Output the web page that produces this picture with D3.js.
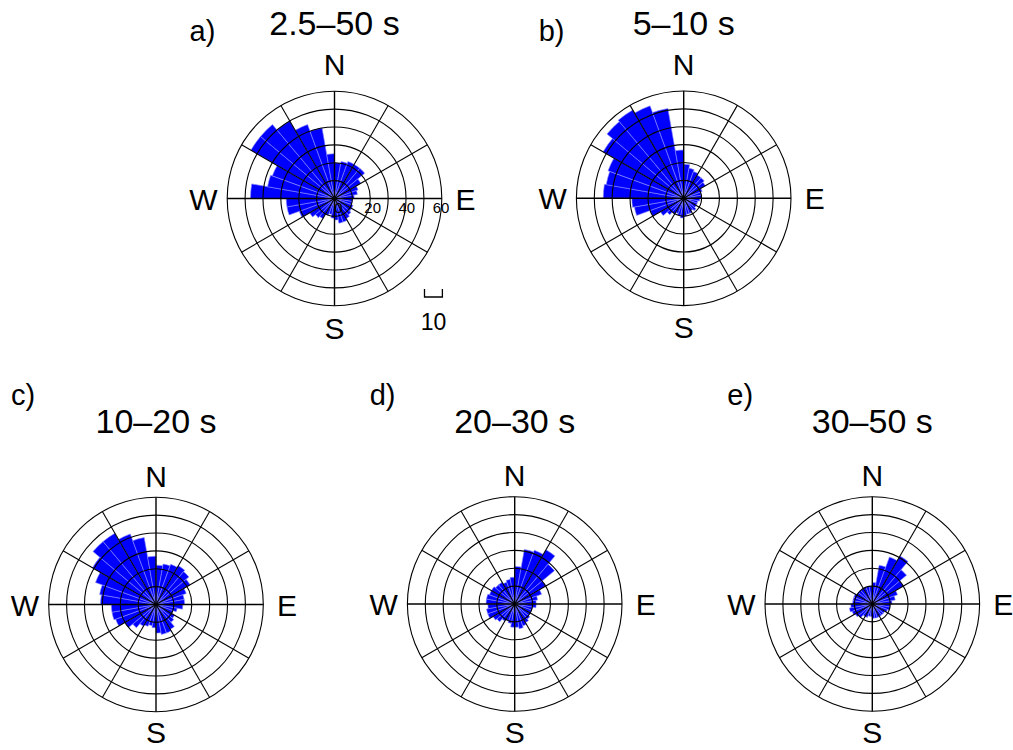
<!DOCTYPE html>
<html>
<head>
<meta charset="utf-8">
<script src="https://cdn.jsdelivr.net/npm/d3@7"></script>
<style>
html,body{margin:0;padding:0;background:#fff;}
svg{display:block;font-family:"Liberation Sans",Arial,Helvetica,sans-serif;}
</style>
</head>
<body>
<svg id="chart" width="1013" height="750"></svg>
<script>
// Bin start azimuths (degrees clockwise from North), 10-degree bins
const binStarts = d3.range(0, 360, 10);

// Counts per 10° bin (starting at N, clockwise)
const countsA = [20,21,22,22,22,17,14,13,11,10,10,11,11,12,13,14,14,12,11,9,10,13,14,16,21,27,27,47,38,37,54,54,50,44,40,25];
const countsB = [19,17,16,15,15,14,11,10,10,9,8,8,8,9,8,9,9,10,11,10,9,10,12,15,20,28,29,45,44,45,52,56,57,55,51,27];
const countsC = [22,23,24,25,24,22,18,16,16,15,12,10,12,13,16,17,17,16,13,12,13,14,17,20,24,25,25,31,32,36,41,46,46,42,38,27];
const countsD = [21,31,32,35,29,20,16,13,12,12,10,10,10,11,12,13,14,13,13,11,10,11,13,14,16,16,15,16,16,15,15,14,14,13,14,15];
const countsE = [12,22,28,31,25,20,15,13,11,10,10,9,8,8,8,8,8,8,7,7,8,8,10,11,12,13,12,11,11,11,10,10,10,10,10,10];

const panelLetters = ["a)","b)","c)","d)","e)"];
const panelTitles = ["2.5\u201350 s","5\u201310 s","10\u201320 s","20\u201330 s","30\u201350 s"];
const panelCounts = [countsA, countsB, countsC, countsD, countsE];

const ringValues = [10,20,30,40,50,60];
const ringLabels = [0,20,40,60];
const spokeAngles = d3.range(0, 360, 30);
const compassLabels = ["N","E","S","W"];
const scaleBarValue = 10;

// layout
const layout = [
  {cx:334.5, cy:198.5, row:0},
  {cx:683.7, cy:198.3, row:0},
  {cx:156.0, cy:604.5, row:1},
  {cx:514.7, cy:604.0, row:1},
  {cx:872.3, cy:604.0, row:1}
];
const rowStyle = [
  {titleY:35, letterY:41, nY:-123.5, sY:140},
  {titleY:433, letterY:405, nY:-118, sY:138.5}
];

const R = 107.3;
const r = d3.scaleLinear().domain([0, 60]).range([0, R]);
const rad = d => d * Math.PI / 180;

const svg = d3.select("#chart");

panelCounts.forEach((counts, i) => {
  const L = layout[i];
  const rs = rowStyle[L.row];
  const g = svg.append("g").attr("transform", `translate(${L.cx},${L.cy})`);

  const data = binStarts.map((a, k) => ({az:a, v:counts[k]}));
  const arc = d3.arc()
    .innerRadius(0)
    .outerRadius(d => r(d.v))
    .startAngle(d => rad(d.az))
    .endAngle(d => rad(d.az + 10));

  g.append("g").selectAll("path").data(data).join("path")
    .attr("d", arc)
    .attr("fill", "#0000ff")
    .attr("stroke", "#8c8cff")
    .attr("stroke-width", 0.6);

  // rings
  g.append("g").selectAll("circle").data(ringValues).join("circle")
    .attr("r", d => r(d))
    .attr("fill", "none")
    .attr("stroke", "#000")
    .attr("stroke-width", 1.1);

  // spokes
  g.append("g").selectAll("line").data(spokeAngles).join("line")
    .attr("x1", 0).attr("y1", 0)
    .attr("x2", d => R * Math.sin(rad(d)))
    .attr("y2", d => -R * Math.cos(rad(d)))
    .attr("stroke", "#000")
    .attr("stroke-width", d => d % 90 === 0 ? 1.4 : 1.1);

  // compass labels
  const cpos = {
    N:[0, rs.nY], S:[0, rs.sY], E:[131, 11], W:[-131, 11]
  };
  g.append("g").selectAll("text").data(compassLabels).join("text")
    .attr("x", d => cpos[d][0]).attr("y", d => cpos[d][1])
    .attr("text-anchor", "middle")
    .attr("font-size", 30)
    .text(d => d);

  // title & letter
  svg.append("text")
    .attr("x", L.cx).attr("y", rs.titleY)
    .attr("text-anchor", "middle")
    .attr("font-size", 34)
    .text(panelTitles[i]);
  svg.append("text")
    .attr("x", L.cx - 145).attr("y", rs.letterY)
    .attr("font-size", 29)
    .text(panelLetters[i]);

  if (i === 0) {
    // ring labels
    g.append("g").selectAll("text").data(ringLabels).join("text")
      .attr("x", d => r(d) + 4 - d * 0.08)
      .attr("y", 14.5)
      .attr("text-anchor", "middle")
      .attr("font-size", 15)
      .text(d => d);
    // scale bar
    const x0 = 90, y0 = 98.5, len = r(scaleBarValue), h = 8;
    g.append("path")
      .attr("d", `M${x0},${y0 - h}V${y0}H${x0 + len}V${y0 - h}`)
      .attr("fill", "none")
      .attr("stroke", "#000")
      .attr("stroke-width", 1.3);
    g.append("text")
      .attr("x", x0 + len / 2).attr("y", 131)
      .attr("text-anchor", "middle")
      .attr("font-size", 23)
      .text(scaleBarValue);
  }
});
</script>
</body>
</html>
